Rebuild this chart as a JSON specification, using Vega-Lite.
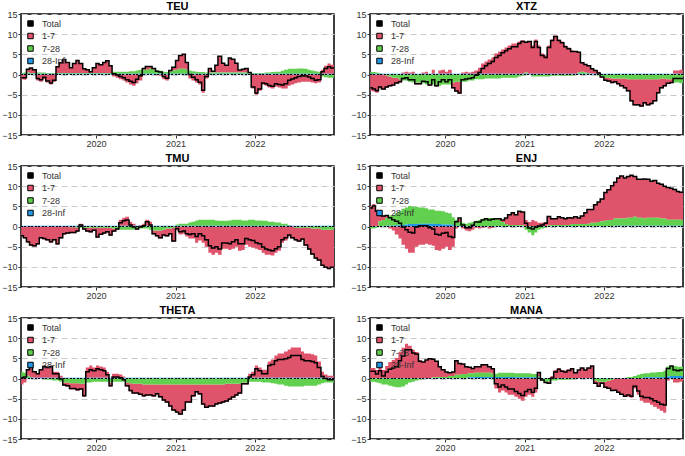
{
"$schema": "https://vega.github.io/schema/vega-lite/v6.json",
"background": "white",
"padding": {"left": 0, "top": 0, "right": 0, "bottom": 0},
"columns": 2,
"spacing": {"row": 3, "column": 13},
"resolve": {"legend": {"color": "independent"}},
"data": {"values": [
{"p":"TEU","d":"2019-01-22","a":-1.2,"b":0.2,"c":0.2,"t":-0.8},
{"p":"TEU","d":"2019-02-01","a":-1.3,"b":0.3,"c":0.2,"t":-0.8},
{"p":"TEU","d":"2019-02-15","a":0.8,"b":0.3,"c":0.2,"t":1.3},
{"p":"TEU","d":"2019-03-01","a":1.2,"b":0.2,"c":0.2,"t":1.6},
{"p":"TEU","d":"2019-03-15","a":0.8,"b":0.2,"c":0.2,"t":1.2},
{"p":"TEU","d":"2019-04-01","a":-1.5,"b":0.3,"c":0.2,"t":-1.0},
{"p":"TEU","d":"2019-04-15","a":-1.8,"b":0.3,"c":0.2,"t":-1.3},
{"p":"TEU","d":"2019-05-01","a":-1.2,"b":0.3,"c":0.2,"t":-0.7},
{"p":"TEU","d":"2019-05-15","a":-2.0,"b":0.2,"c":0.2,"t":-1.6},
{"p":"TEU","d":"2019-06-01","a":-2.5,"b":0.2,"c":0.2,"t":-2.1},
{"p":"TEU","d":"2019-06-15","a":-1.8,"b":0.2,"c":0.2,"t":-1.4},
{"p":"TEU","d":"2019-07-01","a":1.5,"b":0.2,"c":0.2,"t":1.9},
{"p":"TEU","d":"2019-07-15","a":2.5,"b":0.2,"c":0.2,"t":2.9},
{"p":"TEU","d":"2019-08-01","a":3.3,"b":0.2,"c":0.2,"t":3.7},
{"p":"TEU","d":"2019-08-15","a":2.6,"b":0.2,"c":0.2,"t":3.0},
{"p":"TEU","d":"2019-09-01","a":1.3,"b":0.2,"c":0.2,"t":1.7},
{"p":"TEU","d":"2019-09-15","a":2.3,"b":0.2,"c":0.2,"t":2.7},
{"p":"TEU","d":"2019-10-01","a":3.1,"b":0.2,"c":0.2,"t":3.5},
{"p":"TEU","d":"2019-10-15","a":2.3,"b":0.2,"c":0.2,"t":2.7},
{"p":"TEU","d":"2019-11-01","a":1.0,"b":0.2,"c":0.2,"t":1.4},
{"p":"TEU","d":"2019-11-15","a":0.8,"b":0.2,"c":0.2,"t":1.2},
{"p":"TEU","d":"2019-12-01","a":0.3,"b":0.2,"c":0.2,"t":0.7},
{"p":"TEU","d":"2019-12-15","a":1.3,"b":0.2,"c":0.2,"t":1.7},
{"p":"TEU","d":"2020-01-01","a":2.3,"b":0.2,"c":0.2,"t":2.7},
{"p":"TEU","d":"2020-01-15","a":2.0,"b":0.2,"c":0.2,"t":2.4},
{"p":"TEU","d":"2020-02-01","a":2.6,"b":0.2,"c":0.2,"t":3.0},
{"p":"TEU","d":"2020-02-15","a":3.0,"b":0.2,"c":0.2,"t":3.4},
{"p":"TEU","d":"2020-03-01","a":1.8,"b":0.2,"c":0.2,"t":2.2},
{"p":"TEU","d":"2020-03-15","a":-0.5,"b":0.5,"c":0.2,"t":0.2},
{"p":"TEU","d":"2020-04-01","a":-0.8,"b":0.5,"c":0.2,"t":-0.1},
{"p":"TEU","d":"2020-04-15","a":-1.2,"b":0.5,"c":0.2,"t":-0.5},
{"p":"TEU","d":"2020-05-01","a":-1.5,"b":0.5,"c":0.2,"t":-0.8},
{"p":"TEU","d":"2020-05-15","a":-2.0,"b":0.5,"c":0.2,"t":-1.3},
{"p":"TEU","d":"2020-06-01","a":-2.5,"b":0.6,"c":0.2,"t":-1.7},
{"p":"TEU","d":"2020-06-15","a":-2.8,"b":0.6,"c":0.2,"t":-2.0},
{"p":"TEU","d":"2020-07-01","a":-2.2,"b":0.8,"c":0.2,"t":-1.2},
{"p":"TEU","d":"2020-07-15","a":-1.5,"b":1.0,"c":0.2,"t":-0.3},
{"p":"TEU","d":"2020-08-01","a":0.3,"b":1.0,"c":0.2,"t":1.5},
{"p":"TEU","d":"2020-08-15","a":0.8,"b":1.0,"c":0.2,"t":2.0},
{"p":"TEU","d":"2020-09-01","a":0.6,"b":1.2,"c":0.2,"t":2.0},
{"p":"TEU","d":"2020-09-15","a":0.3,"b":1.0,"c":0.2,"t":1.5},
{"p":"TEU","d":"2020-10-01","a":-0.2,"b":0.8,"c":0.2,"t":0.8},
{"p":"TEU","d":"2020-10-15","a":-0.3,"b":0.7,"c":0.2,"t":0.6},
{"p":"TEU","d":"2020-11-01","a":-1.2,"b":0.5,"c":0.2,"t":-0.5},
{"p":"TEU","d":"2020-11-15","a":-1.5,"b":0.4,"c":0.2,"t":-0.9},
{"p":"TEU","d":"2020-12-01","a":0.3,"b":0.5,"c":0.2,"t":1.0},
{"p":"TEU","d":"2020-12-15","a":0.8,"b":0.8,"c":0.2,"t":1.8},
{"p":"TEU","d":"2021-01-01","a":2.3,"b":1.0,"c":0.2,"t":3.5},
{"p":"TEU","d":"2021-01-15","a":3.3,"b":1.2,"c":0.2,"t":4.7},
{"p":"TEU","d":"2021-02-01","a":3.6,"b":1.2,"c":0.2,"t":5.0},
{"p":"TEU","d":"2021-02-15","a":1.8,"b":1.0,"c":0.2,"t":3.0},
{"p":"TEU","d":"2021-03-01","a":-1.0,"b":0.8,"c":0.2,"t":0.0},
{"p":"TEU","d":"2021-03-15","a":-1.5,"b":0.6,"c":0.2,"t":-0.7},
{"p":"TEU","d":"2021-04-01","a":-2.0,"b":0.5,"c":0.2,"t":-1.3},
{"p":"TEU","d":"2021-04-15","a":-2.5,"b":0.4,"c":0.2,"t":-1.9},
{"p":"TEU","d":"2021-05-01","a":-4.5,"b":0.4,"c":0.2,"t":-3.9},
{"p":"TEU","d":"2021-05-15","a":-1.0,"b":0.3,"c":0.2,"t":-0.5},
{"p":"TEU","d":"2021-06-01","a":1.0,"b":0.3,"c":0.2,"t":1.5},
{"p":"TEU","d":"2021-06-15","a":0.3,"b":0.3,"c":0.2,"t":0.8},
{"p":"TEU","d":"2021-07-01","a":1.8,"b":0.3,"c":0.2,"t":2.3},
{"p":"TEU","d":"2021-07-15","a":4.0,"b":0.3,"c":0.2,"t":4.5},
{"p":"TEU","d":"2021-08-01","a":2.3,"b":0.3,"c":0.2,"t":2.8},
{"p":"TEU","d":"2021-08-15","a":1.8,"b":0.3,"c":0.2,"t":2.3},
{"p":"TEU","d":"2021-09-01","a":3.6,"b":0.3,"c":0.2,"t":4.1},
{"p":"TEU","d":"2021-09-15","a":3.3,"b":0.3,"c":0.2,"t":3.8},
{"p":"TEU","d":"2021-10-01","a":2.3,"b":0.3,"c":0.2,"t":2.8},
{"p":"TEU","d":"2021-10-15","a":0.6,"b":0.3,"c":0.2,"t":1.1},
{"p":"TEU","d":"2021-11-01","a":0.8,"b":0.3,"c":0.2,"t":1.3},
{"p":"TEU","d":"2021-11-15","a":1.0,"b":0.3,"c":0.2,"t":1.5},
{"p":"TEU","d":"2021-12-01","a":0.1,"b":0.2,"c":0.2,"t":0.5},
{"p":"TEU","d":"2021-12-15","a":-3.5,"b":0.2,"c":0.2,"t":-3.1},
{"p":"TEU","d":"2022-01-01","a":-5.0,"b":0.2,"c":0.2,"t":-4.6},
{"p":"TEU","d":"2022-01-15","a":-4.0,"b":0.2,"c":0.2,"t":-3.6},
{"p":"TEU","d":"2022-02-01","a":-2.5,"b":0.2,"c":0.2,"t":-2.1},
{"p":"TEU","d":"2022-02-15","a":-2.8,"b":0.3,"c":0.2,"t":-2.3},
{"p":"TEU","d":"2022-03-01","a":-3.2,"b":0.3,"c":0.2,"t":-2.7},
{"p":"TEU","d":"2022-03-15","a":-3.5,"b":0.4,"c":0.2,"t":-2.9},
{"p":"TEU","d":"2022-04-01","a":-3.0,"b":0.5,"c":0.2,"t":-2.3},
{"p":"TEU","d":"2022-04-15","a":-3.2,"b":0.5,"c":0.2,"t":-2.5},
{"p":"TEU","d":"2022-05-01","a":-3.5,"b":0.7,"c":0.2,"t":-2.6},
{"p":"TEU","d":"2022-05-15","a":-3.5,"b":1.0,"c":0.2,"t":-2.3},
{"p":"TEU","d":"2022-06-01","a":-2.8,"b":1.2,"c":0.2,"t":-1.4},
{"p":"TEU","d":"2022-06-15","a":-2.5,"b":1.2,"c":0.2,"t":-1.1},
{"p":"TEU","d":"2022-07-01","a":-2.2,"b":1.2,"c":0.2,"t":-0.8},
{"p":"TEU","d":"2022-07-15","a":-2.0,"b":1.3,"c":0.2,"t":-0.5},
{"p":"TEU","d":"2022-08-01","a":-1.8,"b":1.3,"c":0.2,"t":-0.3},
{"p":"TEU","d":"2022-08-15","a":-1.8,"b":1.2,"c":0.2,"t":-0.4},
{"p":"TEU","d":"2022-09-01","a":-1.8,"b":1.0,"c":0.2,"t":-0.6},
{"p":"TEU","d":"2022-09-15","a":-2.0,"b":0.8,"c":0.2,"t":-1.0},
{"p":"TEU","d":"2022-10-01","a":-2.2,"b":0.6,"c":0.2,"t":-1.4},
{"p":"TEU","d":"2022-10-15","a":-2.0,"b":0.5,"c":0.2,"t":-1.3},
{"p":"TEU","d":"2022-11-01","a":1.0,"b":-0.5,"c":0.2,"t":0.7},
{"p":"TEU","d":"2022-11-15","a":2.0,"b":-0.7,"c":0.2,"t":1.5},
{"p":"TEU","d":"2022-12-01","a":2.5,"b":-0.8,"c":0.2,"t":1.9},
{"p":"TEU","d":"2022-12-15","a":2.2,"b":-0.8,"c":0.2,"t":1.6},
{"p":"TEU","d":"2022-12-31","a":2.2,"b":-0.8,"c":0.2,"t":1.6},

{"p":"XTZ","d":"2019-01-22","a":-4.0,"b":0.5,"c":0.2,"t":-3.3},
{"p":"XTZ","d":"2019-02-01","a":-4.2,"b":0.4,"c":0.2,"t":-3.6},
{"p":"XTZ","d":"2019-02-15","a":-4.5,"b":0.3,"c":0.2,"t":-4.0},
{"p":"XTZ","d":"2019-03-01","a":-3.5,"b":0.2,"c":0.2,"t":-3.1},
{"p":"XTZ","d":"2019-03-15","a":-3.8,"b":0.0,"c":0.2,"t":-3.6},
{"p":"XTZ","d":"2019-04-01","a":-3.0,"b":-0.3,"c":0.2,"t":-3.1},
{"p":"XTZ","d":"2019-04-15","a":-2.5,"b":-0.5,"c":0.2,"t":-2.8},
{"p":"XTZ","d":"2019-05-01","a":-2.0,"b":-0.8,"c":0.2,"t":-2.6},
{"p":"XTZ","d":"2019-05-15","a":-1.5,"b":-0.8,"c":0.2,"t":-2.1},
{"p":"XTZ","d":"2019-06-01","a":-0.8,"b":-1.2,"c":0.2,"t":-1.8},
{"p":"XTZ","d":"2019-06-15","a":0.3,"b":-1.5,"c":0.2,"t":-1.0},
{"p":"XTZ","d":"2019-07-01","a":0.5,"b":-1.5,"c":0.2,"t":-0.8},
{"p":"XTZ","d":"2019-07-15","a":0.3,"b":-1.8,"c":0.2,"t":-1.3},
{"p":"XTZ","d":"2019-08-01","a":0.5,"b":-2.0,"c":0.2,"t":-1.3},
{"p":"XTZ","d":"2019-08-15","a":-0.5,"b":-2.0,"c":0.2,"t":-2.3},
{"p":"XTZ","d":"2019-09-01","a":-0.5,"b":-2.0,"c":0.2,"t":-2.3},
{"p":"XTZ","d":"2019-09-15","a":0.3,"b":-2.2,"c":0.2,"t":-1.7},
{"p":"XTZ","d":"2019-10-01","a":0.5,"b":-2.5,"c":0.2,"t":-1.8},
{"p":"XTZ","d":"2019-10-15","a":-0.5,"b":-2.3,"c":0.2,"t":-2.6},
{"p":"XTZ","d":"2019-11-01","a":1.0,"b":-2.5,"c":0.2,"t":-1.3},
{"p":"XTZ","d":"2019-11-15","a":-0.5,"b":-2.5,"c":0.2,"t":-2.8},
{"p":"XTZ","d":"2019-12-01","a":0.8,"b":-2.8,"c":0.2,"t":-1.8},
{"p":"XTZ","d":"2019-12-15","a":1.0,"b":-2.5,"c":0.2,"t":-1.3},
{"p":"XTZ","d":"2020-01-01","a":0.5,"b":-2.5,"c":0.2,"t":-1.8},
{"p":"XTZ","d":"2020-01-15","a":1.0,"b":-2.5,"c":0.2,"t":-1.3},
{"p":"XTZ","d":"2020-02-01","a":-1.5,"b":-2.0,"c":0.2,"t":-3.3},
{"p":"XTZ","d":"2020-02-15","a":-2.5,"b":-1.8,"c":0.2,"t":-4.1},
{"p":"XTZ","d":"2020-03-01","a":-3.0,"b":-1.8,"c":0.2,"t":-4.6},
{"p":"XTZ","d":"2020-03-15","a":0.3,"b":-1.8,"c":0.2,"t":-1.3},
{"p":"XTZ","d":"2020-04-01","a":0.5,"b":-1.8,"c":0.2,"t":-1.1},
{"p":"XTZ","d":"2020-04-15","a":0.3,"b":-1.5,"c":0.2,"t":-1.0},
{"p":"XTZ","d":"2020-05-01","a":0.5,"b":-1.5,"c":0.2,"t":-0.8},
{"p":"XTZ","d":"2020-05-15","a":0.8,"b":-1.2,"c":0.2,"t":-0.2},
{"p":"XTZ","d":"2020-06-01","a":1.5,"b":-1.2,"c":0.2,"t":0.5},
{"p":"XTZ","d":"2020-06-15","a":2.5,"b":-1.2,"c":0.2,"t":1.5},
{"p":"XTZ","d":"2020-07-01","a":3.0,"b":-1.0,"c":0.2,"t":2.2},
{"p":"XTZ","d":"2020-07-15","a":3.5,"b":-1.0,"c":0.2,"t":2.7},
{"p":"XTZ","d":"2020-08-01","a":4.0,"b":-1.0,"c":0.2,"t":3.2},
{"p":"XTZ","d":"2020-08-15","a":5.0,"b":-1.0,"c":0.2,"t":4.2},
{"p":"XTZ","d":"2020-09-01","a":5.5,"b":-1.0,"c":0.2,"t":4.7},
{"p":"XTZ","d":"2020-09-15","a":6.0,"b":-0.8,"c":0.2,"t":5.4},
{"p":"XTZ","d":"2020-10-01","a":6.5,"b":-0.8,"c":0.2,"t":5.9},
{"p":"XTZ","d":"2020-10-15","a":7.0,"b":-0.8,"c":0.2,"t":6.4},
{"p":"XTZ","d":"2020-11-01","a":7.5,"b":-0.8,"c":0.2,"t":6.9},
{"p":"XTZ","d":"2020-11-15","a":7.5,"b":-0.8,"c":0.2,"t":6.9},
{"p":"XTZ","d":"2020-12-01","a":8.0,"b":-0.5,"c":0.2,"t":7.7},
{"p":"XTZ","d":"2020-12-15","a":8.3,"b":-0.3,"c":0.2,"t":8.2},
{"p":"XTZ","d":"2021-01-01","a":7.5,"b":0.3,"c":0.2,"t":8.0},
{"p":"XTZ","d":"2021-01-15","a":8.0,"b":0.0,"c":0.2,"t":8.2},
{"p":"XTZ","d":"2021-02-01","a":7.0,"b":-0.5,"c":0.2,"t":6.7},
{"p":"XTZ","d":"2021-02-15","a":8.5,"b":-0.5,"c":0.2,"t":8.2},
{"p":"XTZ","d":"2021-03-01","a":7.0,"b":-0.5,"c":0.2,"t":6.7},
{"p":"XTZ","d":"2021-03-15","a":5.0,"b":-0.5,"c":0.2,"t":4.7},
{"p":"XTZ","d":"2021-04-01","a":4.5,"b":-0.5,"c":0.2,"t":4.2},
{"p":"XTZ","d":"2021-04-15","a":7.0,"b":-0.5,"c":0.2,"t":6.7},
{"p":"XTZ","d":"2021-05-01","a":8.5,"b":-0.3,"c":0.2,"t":8.4},
{"p":"XTZ","d":"2021-05-15","a":9.5,"b":-0.3,"c":0.2,"t":9.4},
{"p":"XTZ","d":"2021-06-01","a":8.5,"b":-0.3,"c":0.2,"t":8.4},
{"p":"XTZ","d":"2021-06-15","a":8.0,"b":-0.3,"c":0.2,"t":7.9},
{"p":"XTZ","d":"2021-07-01","a":7.0,"b":-0.3,"c":0.2,"t":6.9},
{"p":"XTZ","d":"2021-07-15","a":6.5,"b":-0.3,"c":0.2,"t":6.4},
{"p":"XTZ","d":"2021-08-01","a":5.8,"b":-0.3,"c":0.2,"t":5.7},
{"p":"XTZ","d":"2021-08-15","a":5.5,"b":0.0,"c":0.2,"t":5.7},
{"p":"XTZ","d":"2021-09-01","a":5.0,"b":0.3,"c":0.2,"t":5.5},
{"p":"XTZ","d":"2021-09-15","a":2.2,"b":0.5,"c":0.2,"t":2.9},
{"p":"XTZ","d":"2021-10-01","a":2.0,"b":0.3,"c":0.2,"t":2.5},
{"p":"XTZ","d":"2021-10-15","a":1.8,"b":0.2,"c":0.2,"t":2.2},
{"p":"XTZ","d":"2021-11-01","a":1.2,"b":0.0,"c":0.2,"t":1.4},
{"p":"XTZ","d":"2021-11-15","a":0.8,"b":0.0,"c":0.2,"t":1.0},
{"p":"XTZ","d":"2021-12-01","a":0.5,"b":-0.3,"c":0.2,"t":0.4},
{"p":"XTZ","d":"2021-12-15","a":-0.3,"b":-0.5,"c":0.2,"t":-0.6},
{"p":"XTZ","d":"2022-01-01","a":-0.8,"b":-0.8,"c":0.2,"t":-1.4},
{"p":"XTZ","d":"2022-01-15","a":-1.0,"b":-0.8,"c":0.2,"t":-1.6},
{"p":"XTZ","d":"2022-02-01","a":-1.2,"b":-1.0,"c":0.2,"t":-2.0},
{"p":"XTZ","d":"2022-02-15","a":-1.0,"b":-1.0,"c":0.2,"t":-1.8},
{"p":"XTZ","d":"2022-03-01","a":-1.5,"b":-1.0,"c":0.2,"t":-2.3},
{"p":"XTZ","d":"2022-03-15","a":-2.0,"b":-1.0,"c":0.2,"t":-2.8},
{"p":"XTZ","d":"2022-04-01","a":-2.5,"b":-1.0,"c":0.2,"t":-3.3},
{"p":"XTZ","d":"2022-04-15","a":-3.0,"b":-1.2,"c":0.2,"t":-4.0},
{"p":"XTZ","d":"2022-05-01","a":-5.5,"b":-1.2,"c":0.2,"t":-6.5},
{"p":"XTZ","d":"2022-05-15","a":-6.5,"b":-1.2,"c":0.2,"t":-7.5},
{"p":"XTZ","d":"2022-06-01","a":-6.5,"b":-1.2,"c":0.2,"t":-7.5},
{"p":"XTZ","d":"2022-06-15","a":-6.8,"b":-1.2,"c":0.2,"t":-7.8},
{"p":"XTZ","d":"2022-07-01","a":-6.0,"b":-1.2,"c":0.2,"t":-7.0},
{"p":"XTZ","d":"2022-07-15","a":-6.5,"b":-1.2,"c":0.2,"t":-7.5},
{"p":"XTZ","d":"2022-08-01","a":-6.2,"b":-1.2,"c":0.2,"t":-7.2},
{"p":"XTZ","d":"2022-08-15","a":-5.5,"b":-1.2,"c":0.2,"t":-6.5},
{"p":"XTZ","d":"2022-09-01","a":-3.5,"b":-1.2,"c":0.2,"t":-4.5},
{"p":"XTZ","d":"2022-09-15","a":-2.5,"b":-1.0,"c":0.2,"t":-3.3},
{"p":"XTZ","d":"2022-10-01","a":-2.0,"b":-1.0,"c":0.2,"t":-2.8},
{"p":"XTZ","d":"2022-10-15","a":-1.2,"b":-1.2,"c":0.2,"t":-2.2},
{"p":"XTZ","d":"2022-11-01","a":-1.0,"b":-1.2,"c":0.2,"t":-2.0},
{"p":"XTZ","d":"2022-11-15","a":0.8,"b":-2.0,"c":0.2,"t":-1.0},
{"p":"XTZ","d":"2022-12-01","a":0.8,"b":-2.0,"c":0.2,"t":-1.0},
{"p":"XTZ","d":"2022-12-15","a":1.0,"b":-2.2,"c":0.2,"t":-1.0},
{"p":"XTZ","d":"2022-12-31","a":1.0,"b":-2.2,"c":0.2,"t":-1.0},

{"p":"TMU","d":"2019-01-22","a":-2.5,"b":0.0,"c":0.2,"t":-2.3},
{"p":"TMU","d":"2019-02-01","a":-3.0,"b":0.0,"c":0.2,"t":-2.8},
{"p":"TMU","d":"2019-02-15","a":-4.0,"b":0.0,"c":0.2,"t":-3.8},
{"p":"TMU","d":"2019-03-01","a":-4.8,"b":0.0,"c":0.2,"t":-4.6},
{"p":"TMU","d":"2019-03-15","a":-5.0,"b":0.0,"c":0.2,"t":-4.8},
{"p":"TMU","d":"2019-04-01","a":-4.5,"b":0.0,"c":0.2,"t":-4.3},
{"p":"TMU","d":"2019-04-15","a":-3.0,"b":0.0,"c":0.2,"t":-2.8},
{"p":"TMU","d":"2019-05-01","a":-3.2,"b":0.0,"c":0.2,"t":-3.0},
{"p":"TMU","d":"2019-05-15","a":-3.5,"b":0.0,"c":0.2,"t":-3.3},
{"p":"TMU","d":"2019-06-01","a":-4.0,"b":0.0,"c":0.2,"t":-3.8},
{"p":"TMU","d":"2019-06-15","a":-3.5,"b":0.0,"c":0.2,"t":-3.3},
{"p":"TMU","d":"2019-07-01","a":-4.5,"b":0.0,"c":0.2,"t":-4.3},
{"p":"TMU","d":"2019-07-15","a":-3.0,"b":0.0,"c":0.2,"t":-2.8},
{"p":"TMU","d":"2019-08-01","a":-2.0,"b":0.0,"c":0.2,"t":-1.8},
{"p":"TMU","d":"2019-08-15","a":-1.8,"b":0.0,"c":0.2,"t":-1.6},
{"p":"TMU","d":"2019-09-01","a":-1.5,"b":-0.2,"c":0.2,"t":-1.5},
{"p":"TMU","d":"2019-09-15","a":-1.5,"b":-0.2,"c":0.2,"t":-1.5},
{"p":"TMU","d":"2019-10-01","a":-1.0,"b":-0.3,"c":0.2,"t":-1.1},
{"p":"TMU","d":"2019-10-15","a":0.5,"b":-0.3,"c":0.2,"t":0.4},
{"p":"TMU","d":"2019-11-01","a":-0.5,"b":-0.3,"c":0.2,"t":-0.6},
{"p":"TMU","d":"2019-11-15","a":-1.0,"b":-0.3,"c":0.2,"t":-1.1},
{"p":"TMU","d":"2019-12-01","a":-1.2,"b":-0.3,"c":0.2,"t":-1.3},
{"p":"TMU","d":"2019-12-15","a":-0.8,"b":-0.3,"c":0.2,"t":-0.9},
{"p":"TMU","d":"2020-01-01","a":-2.5,"b":-0.3,"c":0.2,"t":-2.6},
{"p":"TMU","d":"2020-01-15","a":-1.8,"b":-0.3,"c":0.2,"t":-1.9},
{"p":"TMU","d":"2020-02-01","a":-1.5,"b":-0.3,"c":0.2,"t":-1.6},
{"p":"TMU","d":"2020-02-15","a":-1.2,"b":-0.3,"c":0.2,"t":-1.3},
{"p":"TMU","d":"2020-03-01","a":-2.0,"b":-0.3,"c":0.2,"t":-2.1},
{"p":"TMU","d":"2020-03-15","a":-0.8,"b":-0.5,"c":0.2,"t":-1.1},
{"p":"TMU","d":"2020-04-01","a":-0.3,"b":-0.5,"c":0.2,"t":-0.6},
{"p":"TMU","d":"2020-04-15","a":1.5,"b":-0.8,"c":0.2,"t":0.9},
{"p":"TMU","d":"2020-05-01","a":2.0,"b":-0.8,"c":0.2,"t":1.4},
{"p":"TMU","d":"2020-05-15","a":2.2,"b":-0.8,"c":0.2,"t":1.6},
{"p":"TMU","d":"2020-06-01","a":1.0,"b":-0.8,"c":0.2,"t":0.4},
{"p":"TMU","d":"2020-06-15","a":0.5,"b":-0.8,"c":0.2,"t":-0.1},
{"p":"TMU","d":"2020-07-01","a":-0.3,"b":-0.5,"c":0.2,"t":-0.6},
{"p":"TMU","d":"2020-07-15","a":0.2,"b":-0.5,"c":0.2,"t":-0.1},
{"p":"TMU","d":"2020-08-01","a":0.5,"b":-0.5,"c":0.2,"t":0.2},
{"p":"TMU","d":"2020-08-15","a":1.5,"b":-0.5,"c":0.2,"t":1.2},
{"p":"TMU","d":"2020-09-01","a":1.0,"b":-0.8,"c":0.2,"t":0.4},
{"p":"TMU","d":"2020-09-15","a":-1.0,"b":-1.0,"c":0.2,"t":-1.8},
{"p":"TMU","d":"2020-10-01","a":-1.5,"b":-1.0,"c":0.2,"t":-2.3},
{"p":"TMU","d":"2020-10-15","a":-2.0,"b":-1.0,"c":0.2,"t":-2.8},
{"p":"TMU","d":"2020-11-01","a":-1.5,"b":-0.8,"c":0.2,"t":-2.1},
{"p":"TMU","d":"2020-11-15","a":-2.0,"b":-0.5,"c":0.2,"t":-2.3},
{"p":"TMU","d":"2020-12-01","a":-1.5,"b":-0.5,"c":0.2,"t":-1.8},
{"p":"TMU","d":"2020-12-15","a":-3.5,"b":-0.3,"c":0.2,"t":-3.6},
{"p":"TMU","d":"2021-01-01","a":-1.0,"b":0.3,"c":0.2,"t":-0.5},
{"p":"TMU","d":"2021-01-15","a":-2.0,"b":0.5,"c":0.2,"t":-1.3},
{"p":"TMU","d":"2021-02-01","a":-1.8,"b":0.5,"c":0.2,"t":-1.1},
{"p":"TMU","d":"2021-02-15","a":-2.5,"b":0.5,"c":0.2,"t":-1.8},
{"p":"TMU","d":"2021-03-01","a":-3.0,"b":0.8,"c":0.2,"t":-2.0},
{"p":"TMU","d":"2021-03-15","a":-3.0,"b":1.0,"c":0.2,"t":-1.8},
{"p":"TMU","d":"2021-04-01","a":-4.0,"b":1.3,"c":0.2,"t":-2.5},
{"p":"TMU","d":"2021-04-15","a":-3.5,"b":1.5,"c":0.2,"t":-1.8},
{"p":"TMU","d":"2021-05-01","a":-4.0,"b":1.5,"c":0.2,"t":-2.3},
{"p":"TMU","d":"2021-05-15","a":-5.0,"b":1.5,"c":0.2,"t":-3.3},
{"p":"TMU","d":"2021-06-01","a":-6.5,"b":1.5,"c":0.2,"t":-4.8},
{"p":"TMU","d":"2021-06-15","a":-7.0,"b":1.5,"c":0.2,"t":-5.3},
{"p":"TMU","d":"2021-07-01","a":-6.5,"b":1.3,"c":0.2,"t":-5.0},
{"p":"TMU","d":"2021-07-15","a":-7.0,"b":1.2,"c":0.2,"t":-5.6},
{"p":"TMU","d":"2021-08-01","a":-5.5,"b":1.2,"c":0.2,"t":-4.1},
{"p":"TMU","d":"2021-08-15","a":-5.5,"b":1.2,"c":0.2,"t":-4.1},
{"p":"TMU","d":"2021-09-01","a":-5.8,"b":1.3,"c":0.2,"t":-4.3},
{"p":"TMU","d":"2021-09-15","a":-5.5,"b":1.5,"c":0.2,"t":-3.8},
{"p":"TMU","d":"2021-10-01","a":-5.0,"b":1.5,"c":0.2,"t":-3.3},
{"p":"TMU","d":"2021-10-15","a":-6.0,"b":1.5,"c":0.2,"t":-4.3},
{"p":"TMU","d":"2021-11-01","a":-5.8,"b":1.3,"c":0.2,"t":-4.3},
{"p":"TMU","d":"2021-11-15","a":-4.5,"b":1.3,"c":0.2,"t":-3.0},
{"p":"TMU","d":"2021-12-01","a":-5.0,"b":1.5,"c":0.2,"t":-3.3},
{"p":"TMU","d":"2021-12-15","a":-5.2,"b":1.5,"c":0.2,"t":-3.5},
{"p":"TMU","d":"2022-01-01","a":-5.5,"b":1.3,"c":0.2,"t":-4.0},
{"p":"TMU","d":"2022-01-15","a":-5.8,"b":1.3,"c":0.2,"t":-4.3},
{"p":"TMU","d":"2022-02-01","a":-6.5,"b":1.2,"c":0.2,"t":-5.1},
{"p":"TMU","d":"2022-02-15","a":-7.0,"b":1.2,"c":0.2,"t":-5.6},
{"p":"TMU","d":"2022-03-01","a":-7.0,"b":1.0,"c":0.2,"t":-5.8},
{"p":"TMU","d":"2022-03-15","a":-7.2,"b":1.0,"c":0.2,"t":-6.0},
{"p":"TMU","d":"2022-04-01","a":-6.5,"b":0.8,"c":0.2,"t":-5.5},
{"p":"TMU","d":"2022-04-15","a":-6.0,"b":0.8,"c":0.2,"t":-5.0},
{"p":"TMU","d":"2022-05-01","a":-4.0,"b":0.5,"c":0.2,"t":-3.3},
{"p":"TMU","d":"2022-05-15","a":-3.5,"b":0.5,"c":0.2,"t":-2.8},
{"p":"TMU","d":"2022-06-01","a":-2.5,"b":0.2,"c":0.2,"t":-2.1},
{"p":"TMU","d":"2022-06-15","a":-3.0,"b":0.0,"c":0.2,"t":-2.8},
{"p":"TMU","d":"2022-07-01","a":-3.2,"b":-0.3,"c":0.2,"t":-3.3},
{"p":"TMU","d":"2022-07-15","a":-3.5,"b":-0.3,"c":0.2,"t":-3.6},
{"p":"TMU","d":"2022-08-01","a":-3.0,"b":-0.3,"c":0.2,"t":-3.1},
{"p":"TMU","d":"2022-08-15","a":-4.5,"b":-0.3,"c":0.2,"t":-4.6},
{"p":"TMU","d":"2022-09-01","a":-5.5,"b":-0.3,"c":0.2,"t":-5.6},
{"p":"TMU","d":"2022-09-15","a":-6.5,"b":-0.5,"c":0.2,"t":-6.8},
{"p":"TMU","d":"2022-10-01","a":-7.5,"b":-0.5,"c":0.2,"t":-7.8},
{"p":"TMU","d":"2022-10-15","a":-8.0,"b":-0.5,"c":0.2,"t":-8.3},
{"p":"TMU","d":"2022-11-01","a":-9.0,"b":-0.8,"c":0.2,"t":-9.6},
{"p":"TMU","d":"2022-11-15","a":-9.5,"b":-0.8,"c":0.2,"t":-10.1},
{"p":"TMU","d":"2022-12-01","a":-9.8,"b":-0.8,"c":0.2,"t":-10.4},
{"p":"TMU","d":"2022-12-15","a":-9.5,"b":-0.8,"c":0.2,"t":-10.1},
{"p":"TMU","d":"2022-12-31","a":-9.5,"b":-0.8,"c":0.2,"t":-10.1},

{"p":"ENJ","d":"2019-01-22","a":5.0,"b":-0.5,"c":0.1,"t":4.6},
{"p":"ENJ","d":"2019-02-01","a":5.5,"b":-0.5,"c":0.1,"t":5.1},
{"p":"ENJ","d":"2019-02-15","a":4.0,"b":-0.3,"c":0.1,"t":3.8},
{"p":"ENJ","d":"2019-03-01","a":1.5,"b":1.2,"c":0.1,"t":2.8},
{"p":"ENJ","d":"2019-03-15","a":1.0,"b":1.5,"c":0.1,"t":2.6},
{"p":"ENJ","d":"2019-04-01","a":0.5,"b":2.0,"c":0.2,"t":2.7},
{"p":"ENJ","d":"2019-04-15","a":-0.5,"b":2.5,"c":0.2,"t":2.2},
{"p":"ENJ","d":"2019-05-01","a":-1.0,"b":2.5,"c":0.2,"t":1.7},
{"p":"ENJ","d":"2019-05-15","a":-2.0,"b":3.0,"c":0.3,"t":1.3},
{"p":"ENJ","d":"2019-06-01","a":-3.0,"b":3.5,"c":0.3,"t":0.8},
{"p":"ENJ","d":"2019-06-15","a":-4.5,"b":4.0,"c":0.4,"t":-0.1},
{"p":"ENJ","d":"2019-07-01","a":-5.5,"b":4.2,"c":0.5,"t":-0.8},
{"p":"ENJ","d":"2019-07-15","a":-6.5,"b":4.5,"c":0.6,"t":-1.4},
{"p":"ENJ","d":"2019-08-01","a":-6.5,"b":4.3,"c":0.6,"t":-1.6},
{"p":"ENJ","d":"2019-08-15","a":-5.0,"b":4.3,"c":0.6,"t":-0.1},
{"p":"ENJ","d":"2019-09-01","a":-4.5,"b":4.0,"c":0.7,"t":0.2},
{"p":"ENJ","d":"2019-09-15","a":-4.5,"b":4.0,"c":0.7,"t":0.2},
{"p":"ENJ","d":"2019-10-01","a":-4.3,"b":3.8,"c":0.7,"t":0.2},
{"p":"ENJ","d":"2019-10-15","a":-4.5,"b":3.5,"c":0.7,"t":-0.3},
{"p":"ENJ","d":"2019-11-01","a":-4.8,"b":3.5,"c":0.7,"t":-0.6},
{"p":"ENJ","d":"2019-11-15","a":-5.8,"b":3.3,"c":0.6,"t":-1.9},
{"p":"ENJ","d":"2019-12-01","a":-6.0,"b":3.3,"c":0.6,"t":-2.1},
{"p":"ENJ","d":"2019-12-15","a":-5.5,"b":3.3,"c":0.5,"t":-1.7},
{"p":"ENJ","d":"2020-01-01","a":-5.0,"b":3.0,"c":0.5,"t":-1.5},
{"p":"ENJ","d":"2020-01-15","a":-5.8,"b":2.8,"c":0.5,"t":-2.5},
{"p":"ENJ","d":"2020-02-01","a":-5.0,"b":2.0,"c":0.3,"t":-2.7},
{"p":"ENJ","d":"2020-02-15","a":-0.5,"b":1.5,"c":0.2,"t":1.2},
{"p":"ENJ","d":"2020-03-01","a":1.0,"b":1.0,"c":0.1,"t":2.1},
{"p":"ENJ","d":"2020-03-15","a":-0.5,"b":0.8,"c":0.1,"t":0.4},
{"p":"ENJ","d":"2020-04-01","a":-1.0,"b":0.6,"c":0.1,"t":-0.3},
{"p":"ENJ","d":"2020-04-15","a":-1.2,"b":0.8,"c":0.1,"t":-0.3},
{"p":"ENJ","d":"2020-05-01","a":-0.8,"b":1.0,"c":0.1,"t":0.3},
{"p":"ENJ","d":"2020-05-15","a":-0.3,"b":1.3,"c":0.1,"t":1.1},
{"p":"ENJ","d":"2020-06-01","a":-0.5,"b":1.5,"c":0.1,"t":1.1},
{"p":"ENJ","d":"2020-06-15","a":-0.3,"b":1.8,"c":0.1,"t":1.6},
{"p":"ENJ","d":"2020-07-01","a":0.0,"b":1.8,"c":0.1,"t":1.9},
{"p":"ENJ","d":"2020-07-15","a":-0.5,"b":2.0,"c":0.1,"t":1.6},
{"p":"ENJ","d":"2020-08-01","a":-0.3,"b":2.0,"c":0.1,"t":1.8},
{"p":"ENJ","d":"2020-08-15","a":0.0,"b":1.8,"c":0.1,"t":1.9},
{"p":"ENJ","d":"2020-09-01","a":0.3,"b":1.5,"c":0.1,"t":1.9},
{"p":"ENJ","d":"2020-09-15","a":0.5,"b":1.0,"c":0.1,"t":1.6},
{"p":"ENJ","d":"2020-10-01","a":1.5,"b":0.5,"c":0.1,"t":2.1},
{"p":"ENJ","d":"2020-10-15","a":2.5,"b":0.3,"c":0.1,"t":2.9},
{"p":"ENJ","d":"2020-11-01","a":3.0,"b":0.3,"c":0.1,"t":3.4},
{"p":"ENJ","d":"2020-11-15","a":2.5,"b":0.3,"c":0.1,"t":2.9},
{"p":"ENJ","d":"2020-12-01","a":3.5,"b":0.2,"c":0.1,"t":3.8},
{"p":"ENJ","d":"2020-12-15","a":3.3,"b":0.2,"c":0.1,"t":3.6},
{"p":"ENJ","d":"2021-01-01","a":1.5,"b":-0.8,"c":0.1,"t":0.8},
{"p":"ENJ","d":"2021-01-15","a":1.0,"b":-1.5,"c":0.1,"t":-0.4},
{"p":"ENJ","d":"2021-02-01","a":1.5,"b":-2.2,"c":0.1,"t":-0.6},
{"p":"ENJ","d":"2021-02-15","a":1.2,"b":-1.5,"c":0.1,"t":-0.2},
{"p":"ENJ","d":"2021-03-01","a":0.8,"b":-0.8,"c":0.1,"t":0.1},
{"p":"ENJ","d":"2021-03-15","a":0.8,"b":-0.5,"c":0.1,"t":0.4},
{"p":"ENJ","d":"2021-04-01","a":1.0,"b":-0.3,"c":0.1,"t":0.8},
{"p":"ENJ","d":"2021-04-15","a":2.2,"b":0.2,"c":0.1,"t":2.5},
{"p":"ENJ","d":"2021-05-01","a":1.5,"b":0.3,"c":0.1,"t":1.9},
{"p":"ENJ","d":"2021-05-15","a":1.5,"b":0.3,"c":0.1,"t":1.9},
{"p":"ENJ","d":"2021-06-01","a":2.0,"b":0.3,"c":0.1,"t":2.4},
{"p":"ENJ","d":"2021-06-15","a":1.8,"b":0.3,"c":0.1,"t":2.2},
{"p":"ENJ","d":"2021-07-01","a":1.5,"b":0.3,"c":0.1,"t":1.9},
{"p":"ENJ","d":"2021-07-15","a":1.8,"b":0.3,"c":0.1,"t":2.2},
{"p":"ENJ","d":"2021-08-01","a":1.5,"b":0.5,"c":0.1,"t":2.1},
{"p":"ENJ","d":"2021-08-15","a":1.8,"b":0.5,"c":0.1,"t":2.4},
{"p":"ENJ","d":"2021-09-01","a":1.5,"b":0.5,"c":0.1,"t":2.1},
{"p":"ENJ","d":"2021-09-15","a":2.0,"b":0.5,"c":0.1,"t":2.6},
{"p":"ENJ","d":"2021-10-01","a":2.8,"b":0.5,"c":0.1,"t":3.4},
{"p":"ENJ","d":"2021-10-15","a":3.5,"b":0.6,"c":0.1,"t":4.2},
{"p":"ENJ","d":"2021-11-01","a":3.3,"b":0.8,"c":0.1,"t":4.2},
{"p":"ENJ","d":"2021-11-15","a":4.5,"b":0.8,"c":0.1,"t":5.4},
{"p":"ENJ","d":"2021-12-01","a":5.0,"b":1.0,"c":0.1,"t":6.1},
{"p":"ENJ","d":"2021-12-15","a":5.5,"b":1.2,"c":0.1,"t":6.8},
{"p":"ENJ","d":"2022-01-01","a":7.0,"b":1.3,"c":0.1,"t":8.4},
{"p":"ENJ","d":"2022-01-15","a":7.5,"b":1.5,"c":0.1,"t":9.1},
{"p":"ENJ","d":"2022-02-01","a":8.5,"b":1.5,"c":0.1,"t":10.1},
{"p":"ENJ","d":"2022-02-15","a":9.0,"b":1.8,"c":0.2,"t":11.0},
{"p":"ENJ","d":"2022-03-01","a":10.0,"b":1.8,"c":0.2,"t":12.0},
{"p":"ENJ","d":"2022-03-15","a":10.5,"b":1.8,"c":0.2,"t":12.5},
{"p":"ENJ","d":"2022-04-01","a":10.0,"b":1.8,"c":0.2,"t":12.0},
{"p":"ENJ","d":"2022-04-15","a":10.2,"b":2.0,"c":0.2,"t":12.4},
{"p":"ENJ","d":"2022-05-01","a":10.5,"b":2.0,"c":0.2,"t":12.7},
{"p":"ENJ","d":"2022-05-15","a":10.0,"b":2.2,"c":0.2,"t":12.4},
{"p":"ENJ","d":"2022-06-01","a":9.5,"b":2.0,"c":0.2,"t":11.7},
{"p":"ENJ","d":"2022-06-15","a":9.5,"b":2.0,"c":0.2,"t":11.7},
{"p":"ENJ","d":"2022-07-01","a":9.8,"b":1.8,"c":0.2,"t":11.8},
{"p":"ENJ","d":"2022-07-15","a":9.5,"b":2.0,"c":0.2,"t":11.7},
{"p":"ENJ","d":"2022-08-01","a":9.0,"b":2.0,"c":0.2,"t":11.2},
{"p":"ENJ","d":"2022-08-15","a":9.2,"b":2.0,"c":0.2,"t":11.4},
{"p":"ENJ","d":"2022-09-01","a":8.5,"b":2.0,"c":0.2,"t":10.7},
{"p":"ENJ","d":"2022-09-15","a":8.5,"b":1.8,"c":0.2,"t":10.5},
{"p":"ENJ","d":"2022-10-01","a":8.0,"b":1.8,"c":0.2,"t":10.0},
{"p":"ENJ","d":"2022-10-15","a":8.0,"b":1.5,"c":0.2,"t":9.7},
{"p":"ENJ","d":"2022-11-01","a":7.8,"b":1.5,"c":0.2,"t":9.5},
{"p":"ENJ","d":"2022-11-15","a":7.5,"b":1.5,"c":0.2,"t":9.2},
{"p":"ENJ","d":"2022-12-01","a":7.0,"b":1.5,"c":0.2,"t":8.7},
{"p":"ENJ","d":"2022-12-15","a":6.8,"b":1.5,"c":0.2,"t":8.5},
{"p":"ENJ","d":"2022-12-31","a":6.8,"b":1.5,"c":0.2,"t":8.5},

{"p":"THETA","d":"2019-01-22","a":-1.5,"b":1.5,"c":0.2,"t":0.2},
{"p":"THETA","d":"2019-02-01","a":-1.0,"b":1.2,"c":0.2,"t":0.4},
{"p":"THETA","d":"2019-02-15","a":1.5,"b":0.5,"c":0.2,"t":2.2},
{"p":"THETA","d":"2019-03-01","a":2.5,"b":0.2,"c":0.2,"t":2.9},
{"p":"THETA","d":"2019-03-15","a":1.5,"b":0.0,"c":0.2,"t":1.7},
{"p":"THETA","d":"2019-04-01","a":1.0,"b":0.0,"c":0.2,"t":1.2},
{"p":"THETA","d":"2019-04-15","a":2.0,"b":0.0,"c":0.2,"t":2.2},
{"p":"THETA","d":"2019-05-01","a":3.0,"b":-0.2,"c":0.2,"t":3.0},
{"p":"THETA","d":"2019-05-15","a":2.8,"b":-0.3,"c":0.2,"t":2.7},
{"p":"THETA","d":"2019-06-01","a":3.0,"b":-0.3,"c":0.2,"t":2.9},
{"p":"THETA","d":"2019-06-15","a":1.5,"b":-0.5,"c":0.2,"t":1.2},
{"p":"THETA","d":"2019-07-01","a":1.5,"b":-0.5,"c":0.2,"t":1.2},
{"p":"THETA","d":"2019-07-15","a":0.5,"b":-0.8,"c":0.2,"t":-0.1},
{"p":"THETA","d":"2019-08-01","a":-0.8,"b":-1.0,"c":0.2,"t":-1.6},
{"p":"THETA","d":"2019-08-15","a":-1.0,"b":-1.0,"c":0.2,"t":-1.8},
{"p":"THETA","d":"2019-09-01","a":-1.5,"b":-1.2,"c":0.2,"t":-2.5},
{"p":"THETA","d":"2019-09-15","a":-1.5,"b":-1.2,"c":0.2,"t":-2.5},
{"p":"THETA","d":"2019-10-01","a":-1.8,"b":-1.2,"c":0.2,"t":-2.8},
{"p":"THETA","d":"2019-10-15","a":-1.5,"b":-1.3,"c":0.2,"t":-2.6},
{"p":"THETA","d":"2019-11-01","a":-3.2,"b":-1.3,"c":0.2,"t":-4.3},
{"p":"THETA","d":"2019-11-15","a":2.5,"b":-1.0,"c":0.2,"t":1.7},
{"p":"THETA","d":"2019-12-01","a":3.0,"b":-1.0,"c":0.2,"t":2.2},
{"p":"THETA","d":"2019-12-15","a":2.5,"b":-0.8,"c":0.2,"t":1.9},
{"p":"THETA","d":"2020-01-01","a":3.0,"b":-0.8,"c":0.2,"t":2.4},
{"p":"THETA","d":"2020-01-15","a":2.8,"b":-0.8,"c":0.2,"t":2.2},
{"p":"THETA","d":"2020-02-01","a":2.5,"b":-0.8,"c":0.2,"t":1.9},
{"p":"THETA","d":"2020-02-15","a":1.5,"b":-0.8,"c":0.2,"t":0.9},
{"p":"THETA","d":"2020-03-01","a":-1.0,"b":-1.0,"c":0.2,"t":-1.8},
{"p":"THETA","d":"2020-03-15","a":1.0,"b":-0.8,"c":0.2,"t":0.4},
{"p":"THETA","d":"2020-04-01","a":1.0,"b":-0.8,"c":0.2,"t":0.4},
{"p":"THETA","d":"2020-04-15","a":0.8,"b":-0.8,"c":0.2,"t":0.2},
{"p":"THETA","d":"2020-05-01","a":0.3,"b":-0.8,"c":0.2,"t":-0.3},
{"p":"THETA","d":"2020-05-15","a":-1.0,"b":-1.0,"c":0.2,"t":-1.8},
{"p":"THETA","d":"2020-06-01","a":-2.0,"b":-1.2,"c":0.2,"t":-3.0},
{"p":"THETA","d":"2020-06-15","a":-2.5,"b":-1.3,"c":0.2,"t":-3.6},
{"p":"THETA","d":"2020-07-01","a":-2.5,"b":-1.3,"c":0.2,"t":-3.6},
{"p":"THETA","d":"2020-07-15","a":-2.8,"b":-1.3,"c":0.2,"t":-3.9},
{"p":"THETA","d":"2020-08-01","a":-3.0,"b":-1.5,"c":0.2,"t":-4.3},
{"p":"THETA","d":"2020-08-15","a":-2.8,"b":-1.5,"c":0.2,"t":-4.1},
{"p":"THETA","d":"2020-09-01","a":-2.8,"b":-1.5,"c":0.2,"t":-4.1},
{"p":"THETA","d":"2020-09-15","a":-3.0,"b":-1.5,"c":0.2,"t":-4.3},
{"p":"THETA","d":"2020-10-01","a":-2.5,"b":-1.5,"c":0.2,"t":-3.8},
{"p":"THETA","d":"2020-10-15","a":-3.2,"b":-1.5,"c":0.2,"t":-4.5},
{"p":"THETA","d":"2020-11-01","a":-4.0,"b":-1.5,"c":0.2,"t":-5.3},
{"p":"THETA","d":"2020-11-15","a":-4.5,"b":-1.5,"c":0.2,"t":-5.8},
{"p":"THETA","d":"2020-12-01","a":-5.5,"b":-1.5,"c":0.2,"t":-6.8},
{"p":"THETA","d":"2020-12-15","a":-6.5,"b":-1.5,"c":0.2,"t":-7.8},
{"p":"THETA","d":"2021-01-01","a":-7.0,"b":-1.5,"c":0.2,"t":-8.3},
{"p":"THETA","d":"2021-01-15","a":-7.5,"b":-1.5,"c":0.2,"t":-8.8},
{"p":"THETA","d":"2021-02-01","a":-6.5,"b":-1.5,"c":0.2,"t":-7.8},
{"p":"THETA","d":"2021-02-15","a":-4.5,"b":-1.5,"c":0.2,"t":-5.8},
{"p":"THETA","d":"2021-03-01","a":-4.5,"b":-1.5,"c":0.2,"t":-5.8},
{"p":"THETA","d":"2021-03-15","a":-3.0,"b":-1.5,"c":0.2,"t":-4.3},
{"p":"THETA","d":"2021-04-01","a":-2.0,"b":-1.5,"c":0.2,"t":-3.3},
{"p":"THETA","d":"2021-04-15","a":-2.5,"b":-1.5,"c":0.2,"t":-3.8},
{"p":"THETA","d":"2021-05-01","a":-5.0,"b":-1.5,"c":0.2,"t":-6.3},
{"p":"THETA","d":"2021-05-15","a":-5.8,"b":-1.5,"c":0.2,"t":-7.1},
{"p":"THETA","d":"2021-06-01","a":-5.5,"b":-1.5,"c":0.2,"t":-6.8},
{"p":"THETA","d":"2021-06-15","a":-5.5,"b":-1.5,"c":0.2,"t":-6.8},
{"p":"THETA","d":"2021-07-01","a":-5.0,"b":-1.5,"c":0.2,"t":-6.3},
{"p":"THETA","d":"2021-07-15","a":-4.8,"b":-1.5,"c":0.2,"t":-6.1},
{"p":"THETA","d":"2021-08-01","a":-4.5,"b":-1.5,"c":0.2,"t":-5.8},
{"p":"THETA","d":"2021-08-15","a":-4.5,"b":-1.3,"c":0.2,"t":-5.6},
{"p":"THETA","d":"2021-09-01","a":-4.0,"b":-1.3,"c":0.2,"t":-5.1},
{"p":"THETA","d":"2021-09-15","a":-3.5,"b":-1.3,"c":0.2,"t":-4.6},
{"p":"THETA","d":"2021-10-01","a":-3.0,"b":-1.3,"c":0.2,"t":-4.1},
{"p":"THETA","d":"2021-10-15","a":-2.5,"b":-1.3,"c":0.2,"t":-3.6},
{"p":"THETA","d":"2021-11-01","a":-0.5,"b":-1.0,"c":0.2,"t":-1.3},
{"p":"THETA","d":"2021-11-15","a":-0.5,"b":-1.0,"c":0.2,"t":-1.3},
{"p":"THETA","d":"2021-12-01","a":1.0,"b":-0.8,"c":0.2,"t":0.4},
{"p":"THETA","d":"2021-12-15","a":1.5,"b":-0.8,"c":0.2,"t":0.9},
{"p":"THETA","d":"2022-01-01","a":3.0,"b":-0.8,"c":0.2,"t":2.4},
{"p":"THETA","d":"2022-01-15","a":2.5,"b":-0.8,"c":0.2,"t":1.9},
{"p":"THETA","d":"2022-02-01","a":2.0,"b":-1.0,"c":0.2,"t":1.2},
{"p":"THETA","d":"2022-02-15","a":2.0,"b":-1.0,"c":0.2,"t":1.2},
{"p":"THETA","d":"2022-03-01","a":4.0,"b":-1.0,"c":0.2,"t":3.2},
{"p":"THETA","d":"2022-03-15","a":4.5,"b":-1.2,"c":0.2,"t":3.5},
{"p":"THETA","d":"2022-04-01","a":5.5,"b":-1.3,"c":0.2,"t":4.4},
{"p":"THETA","d":"2022-04-15","a":6.0,"b":-1.5,"c":0.2,"t":4.7},
{"p":"THETA","d":"2022-05-01","a":6.0,"b":-1.5,"c":0.2,"t":4.7},
{"p":"THETA","d":"2022-05-15","a":6.5,"b":-1.8,"c":0.2,"t":4.9},
{"p":"THETA","d":"2022-06-01","a":7.0,"b":-2.0,"c":0.2,"t":5.2},
{"p":"THETA","d":"2022-06-15","a":7.5,"b":-2.0,"c":0.2,"t":5.7},
{"p":"THETA","d":"2022-07-01","a":7.5,"b":-2.0,"c":0.2,"t":5.7},
{"p":"THETA","d":"2022-07-15","a":7.5,"b":-2.0,"c":0.2,"t":5.7},
{"p":"THETA","d":"2022-08-01","a":6.5,"b":-2.0,"c":0.2,"t":4.7},
{"p":"THETA","d":"2022-08-15","a":6.0,"b":-1.8,"c":0.2,"t":4.4},
{"p":"THETA","d":"2022-09-01","a":6.0,"b":-1.8,"c":0.2,"t":4.4},
{"p":"THETA","d":"2022-09-15","a":5.8,"b":-1.8,"c":0.2,"t":4.2},
{"p":"THETA","d":"2022-10-01","a":5.5,"b":-1.8,"c":0.2,"t":3.9},
{"p":"THETA","d":"2022-10-15","a":4.0,"b":-1.5,"c":0.2,"t":2.7},
{"p":"THETA","d":"2022-11-01","a":1.5,"b":-1.2,"c":0.2,"t":0.5},
{"p":"THETA","d":"2022-11-15","a":0.8,"b":-1.0,"c":0.2,"t":0.0},
{"p":"THETA","d":"2022-12-01","a":0.5,"b":-1.0,"c":0.2,"t":-0.3},
{"p":"THETA","d":"2022-12-15","a":0.5,"b":-1.0,"c":0.2,"t":-0.3},
{"p":"THETA","d":"2022-12-31","a":0.5,"b":-1.0,"c":0.2,"t":-0.3},

{"p":"MANA","d":"2019-01-22","a":2.5,"b":-0.8,"c":0.1,"t":1.8},
{"p":"MANA","d":"2019-02-01","a":2.5,"b":-0.8,"c":0.1,"t":1.8},
{"p":"MANA","d":"2019-02-15","a":2.0,"b":-1.0,"c":0.1,"t":1.1},
{"p":"MANA","d":"2019-03-01","a":3.0,"b":-1.2,"c":0.1,"t":1.9},
{"p":"MANA","d":"2019-03-15","a":2.0,"b":-1.5,"c":0.1,"t":0.6},
{"p":"MANA","d":"2019-04-01","a":3.0,"b":-1.5,"c":0.1,"t":1.6},
{"p":"MANA","d":"2019-04-15","a":4.0,"b":-1.8,"c":0.1,"t":2.3},
{"p":"MANA","d":"2019-05-01","a":4.5,"b":-2.0,"c":0.1,"t":2.6},
{"p":"MANA","d":"2019-05-15","a":5.0,"b":-2.2,"c":0.1,"t":2.9},
{"p":"MANA","d":"2019-06-01","a":6.5,"b":-2.2,"c":0.1,"t":4.4},
{"p":"MANA","d":"2019-06-15","a":7.5,"b":-2.0,"c":0.1,"t":5.6},
{"p":"MANA","d":"2019-07-01","a":8.5,"b":-1.5,"c":0.1,"t":7.1},
{"p":"MANA","d":"2019-07-15","a":8.0,"b":-1.0,"c":0.1,"t":7.1},
{"p":"MANA","d":"2019-08-01","a":7.0,"b":-0.8,"c":0.1,"t":6.3},
{"p":"MANA","d":"2019-08-15","a":6.5,"b":-0.5,"c":0.1,"t":6.1},
{"p":"MANA","d":"2019-09-01","a":4.5,"b":-0.3,"c":0.1,"t":4.3},
{"p":"MANA","d":"2019-09-15","a":4.0,"b":0.0,"c":0.1,"t":4.1},
{"p":"MANA","d":"2019-10-01","a":4.5,"b":0.0,"c":0.1,"t":4.6},
{"p":"MANA","d":"2019-10-15","a":4.8,"b":0.0,"c":0.1,"t":4.9},
{"p":"MANA","d":"2019-11-01","a":4.5,"b":0.2,"c":0.1,"t":4.8},
{"p":"MANA","d":"2019-11-15","a":4.0,"b":0.2,"c":0.1,"t":4.3},
{"p":"MANA","d":"2019-12-01","a":2.5,"b":0.3,"c":0.1,"t":2.9},
{"p":"MANA","d":"2019-12-15","a":1.8,"b":0.3,"c":0.1,"t":2.2},
{"p":"MANA","d":"2020-01-01","a":1.2,"b":0.3,"c":0.1,"t":1.6},
{"p":"MANA","d":"2020-01-15","a":0.8,"b":0.5,"c":0.1,"t":1.4},
{"p":"MANA","d":"2020-02-01","a":1.0,"b":0.5,"c":0.1,"t":1.6},
{"p":"MANA","d":"2020-02-15","a":3.5,"b":0.8,"c":0.1,"t":4.4},
{"p":"MANA","d":"2020-03-01","a":2.8,"b":0.8,"c":0.1,"t":3.7},
{"p":"MANA","d":"2020-03-15","a":2.5,"b":1.0,"c":0.1,"t":3.6},
{"p":"MANA","d":"2020-04-01","a":1.8,"b":1.0,"c":0.1,"t":2.9},
{"p":"MANA","d":"2020-04-15","a":1.5,"b":1.0,"c":0.3,"t":2.8},
{"p":"MANA","d":"2020-05-01","a":1.2,"b":1.0,"c":0.3,"t":2.5},
{"p":"MANA","d":"2020-05-15","a":1.5,"b":1.0,"c":0.4,"t":2.9},
{"p":"MANA","d":"2020-06-01","a":1.5,"b":1.0,"c":0.4,"t":2.9},
{"p":"MANA","d":"2020-06-15","a":2.0,"b":1.0,"c":0.4,"t":3.4},
{"p":"MANA","d":"2020-07-01","a":2.0,"b":1.0,"c":0.4,"t":3.4},
{"p":"MANA","d":"2020-07-15","a":1.5,"b":1.0,"c":0.4,"t":2.9},
{"p":"MANA","d":"2020-08-01","a":1.2,"b":0.8,"c":0.4,"t":2.4},
{"p":"MANA","d":"2020-08-15","a":-2.5,"b":0.8,"c":0.4,"t":-1.3},
{"p":"MANA","d":"2020-09-01","a":-3.5,"b":1.0,"c":0.4,"t":-2.1},
{"p":"MANA","d":"2020-09-15","a":-3.0,"b":1.0,"c":0.4,"t":-1.6},
{"p":"MANA","d":"2020-10-01","a":-3.5,"b":1.0,"c":0.4,"t":-2.1},
{"p":"MANA","d":"2020-10-15","a":-4.0,"b":1.0,"c":0.4,"t":-2.6},
{"p":"MANA","d":"2020-11-01","a":-4.0,"b":1.0,"c":0.4,"t":-2.6},
{"p":"MANA","d":"2020-11-15","a":-4.5,"b":1.0,"c":0.3,"t":-3.2},
{"p":"MANA","d":"2020-12-01","a":-5.0,"b":1.0,"c":0.3,"t":-3.7},
{"p":"MANA","d":"2020-12-15","a":-5.5,"b":1.0,"c":0.3,"t":-4.2},
{"p":"MANA","d":"2021-01-01","a":-4.5,"b":1.0,"c":0.3,"t":-3.2},
{"p":"MANA","d":"2021-01-15","a":-4.0,"b":1.0,"c":0.3,"t":-2.7},
{"p":"MANA","d":"2021-02-01","a":-4.5,"b":0.8,"c":0.3,"t":-3.4},
{"p":"MANA","d":"2021-02-15","a":-3.5,"b":0.8,"c":0.3,"t":-2.4},
{"p":"MANA","d":"2021-03-01","a":1.0,"b":0.3,"c":0.2,"t":1.5},
{"p":"MANA","d":"2021-03-15","a":0.0,"b":-0.5,"c":0.1,"t":-0.4},
{"p":"MANA","d":"2021-04-01","a":-0.3,"b":-0.8,"c":0.1,"t":-1.0},
{"p":"MANA","d":"2021-04-15","a":-0.5,"b":-0.8,"c":0.1,"t":-1.2},
{"p":"MANA","d":"2021-05-01","a":0.5,"b":-0.5,"c":0.1,"t":0.1},
{"p":"MANA","d":"2021-05-15","a":2.0,"b":-0.5,"c":0.1,"t":1.6},
{"p":"MANA","d":"2021-06-01","a":2.5,"b":-0.3,"c":0.1,"t":2.3},
{"p":"MANA","d":"2021-06-15","a":2.0,"b":-0.3,"c":0.1,"t":1.8},
{"p":"MANA","d":"2021-07-01","a":1.8,"b":-0.3,"c":0.1,"t":1.6},
{"p":"MANA","d":"2021-07-15","a":2.2,"b":-0.3,"c":0.1,"t":2.0},
{"p":"MANA","d":"2021-08-01","a":2.5,"b":-0.2,"c":0.1,"t":2.4},
{"p":"MANA","d":"2021-08-15","a":1.5,"b":-0.2,"c":0.1,"t":1.4},
{"p":"MANA","d":"2021-09-01","a":2.0,"b":0.0,"c":0.1,"t":2.1},
{"p":"MANA","d":"2021-09-15","a":2.5,"b":0.0,"c":0.1,"t":2.6},
{"p":"MANA","d":"2021-10-01","a":2.0,"b":0.0,"c":0.1,"t":2.1},
{"p":"MANA","d":"2021-10-15","a":2.5,"b":0.0,"c":0.1,"t":2.6},
{"p":"MANA","d":"2021-11-01","a":3.0,"b":0.0,"c":0.1,"t":3.1},
{"p":"MANA","d":"2021-11-15","a":-0.8,"b":-0.5,"c":0.1,"t":-1.2},
{"p":"MANA","d":"2021-12-01","a":-1.2,"b":-0.8,"c":0.1,"t":-1.9},
{"p":"MANA","d":"2021-12-15","a":-0.5,"b":-0.8,"c":0.1,"t":-1.2},
{"p":"MANA","d":"2022-01-01","a":-1.5,"b":-0.8,"c":0.1,"t":-2.2},
{"p":"MANA","d":"2022-01-15","a":-2.0,"b":-0.5,"c":0.1,"t":-2.4},
{"p":"MANA","d":"2022-02-01","a":-2.8,"b":-0.3,"c":0.1,"t":-3.0},
{"p":"MANA","d":"2022-02-15","a":-3.0,"b":0.0,"c":0.1,"t":-2.9},
{"p":"MANA","d":"2022-03-01","a":-3.5,"b":0.0,"c":0.1,"t":-3.4},
{"p":"MANA","d":"2022-03-15","a":-4.0,"b":0.0,"c":0.1,"t":-3.9},
{"p":"MANA","d":"2022-04-01","a":-4.5,"b":0.0,"c":0.1,"t":-4.4},
{"p":"MANA","d":"2022-04-15","a":-4.5,"b":0.3,"c":0.1,"t":-4.1},
{"p":"MANA","d":"2022-05-01","a":-4.8,"b":0.3,"c":0.1,"t":-4.4},
{"p":"MANA","d":"2022-05-15","a":-2.5,"b":0.5,"c":0.1,"t":-1.9},
{"p":"MANA","d":"2022-06-01","a":-4.0,"b":0.8,"c":0.1,"t":-3.1},
{"p":"MANA","d":"2022-06-15","a":-5.5,"b":1.0,"c":0.1,"t":-4.4},
{"p":"MANA","d":"2022-07-01","a":-6.0,"b":1.0,"c":0.3,"t":-4.7},
{"p":"MANA","d":"2022-07-15","a":-6.0,"b":1.0,"c":0.3,"t":-4.7},
{"p":"MANA","d":"2022-08-01","a":-6.5,"b":1.2,"c":0.3,"t":-5.0},
{"p":"MANA","d":"2022-08-15","a":-7.0,"b":1.2,"c":0.3,"t":-5.5},
{"p":"MANA","d":"2022-09-01","a":-7.5,"b":1.3,"c":0.3,"t":-5.9},
{"p":"MANA","d":"2022-09-15","a":-8.0,"b":1.3,"c":0.3,"t":-6.4},
{"p":"MANA","d":"2022-10-01","a":-8.5,"b":1.5,"c":0.4,"t":-6.6},
{"p":"MANA","d":"2022-10-15","a":-0.5,"b":2.5,"c":0.5,"t":2.5},
{"p":"MANA","d":"2022-11-01","a":0.0,"b":2.5,"c":0.6,"t":3.1},
{"p":"MANA","d":"2022-11-15","a":-1.0,"b":2.5,"c":0.6,"t":2.1},
{"p":"MANA","d":"2022-12-01","a":-1.0,"b":2.3,"c":0.6,"t":1.9},
{"p":"MANA","d":"2022-12-15","a":-0.8,"b":2.3,"c":0.6,"t":2.1},
{"p":"MANA","d":"2022-12-31","a":-0.8,"b":2.3,"c":0.6,"t":2.1}
]},
"concat": [
{"title":"TEU","width":313,"height":121,"transform":[{"filter":"datum.p=='TEU'"}],"layer":[
 {"transform":[{"fold":["a","b","c"],"as":["k","v"]}],"mark":{"type":"area","interpolate":"step-after","clip":true},
  "encoding":{
   "x":{"field":"d","type":"temporal","scale":{"type":"utc","domain":[{"year":2019,"month":1,"date":21,"utc":true},{"year":2022,"month":12,"date":31,"utc":true}]},"axis":{"values":[{"year":2020,"month":1,"date":1,"utc":true},{"year":2021,"month":1,"date":1,"utc":true},{"year":2022,"month":1,"date":1,"utc":true}],"format":"%Y","title":null}},
   "y":{"field":"v","type":"quantitative","stack":"zero","scale":{"domain":[-15,15],"nice":false},"axis":{"values":[-15,-10,-5,0,5,10,15],"title":null,"labelOverlap":false}},
   "color":{"field":"k","type":"nominal","scale":{"domain":["T","a","b","c"],"range":["#000000","#DF536B","#61D04F","#2297E6"]},"legend":{"title":null,"orient":"top-left","symbolType":"square","symbolSize":30,"labelFontSize":9,"labelColor":"#333333","rowPadding":1.5,"offset":5,"padding":0,"labelOffset":7,"labelExpr":"datum.label=='T'?'Total':datum.label=='a'?'1-7':datum.label=='b'?'7-28':'28-Inf'","encode":{"symbols":{"update":{"stroke":{"value":"#000000"},"strokeWidth":{"value":1}}}}}},
   "order":{"field":"k","sort":"descending"}}},
 {"mark":{"type":"line","interpolate":"step-after","color":"black","strokeWidth":1.5,"clip":true},"encoding":{"x":{"field":"d","type":"temporal"},"y":{"field":"t","type":"quantitative","axis":{"values":[-15,-10,-5,0,5,10,15],"title":null,"labelOverlap":false}}}},
 {"mark":{"type":"rule","color":"black","strokeDash":[1.5,2],"strokeWidth":1.2},"encoding":{"y":{"datum":0,"type":"quantitative","axis":{"values":[-15,-10,-5,0,5,10,15],"title":null,"labelOverlap":false}}}}
]},
{"title":"XTZ","width":313,"height":121,"transform":[{"filter":"datum.p=='XTZ'"}],"layer":[
 {"transform":[{"fold":["a","b","c"],"as":["k","v"]}],"mark":{"type":"area","interpolate":"step-after","clip":true},
  "encoding":{
   "x":{"field":"d","type":"temporal","scale":{"type":"utc","domain":[{"year":2019,"month":1,"date":21,"utc":true},{"year":2022,"month":12,"date":31,"utc":true}]},"axis":{"values":[{"year":2020,"month":1,"date":1,"utc":true},{"year":2021,"month":1,"date":1,"utc":true},{"year":2022,"month":1,"date":1,"utc":true}],"format":"%Y","title":null}},
   "y":{"field":"v","type":"quantitative","stack":"zero","scale":{"domain":[-15,15],"nice":false},"axis":{"values":[-15,-10,-5,0,5,10,15],"title":null,"labelOverlap":false}},
   "color":{"field":"k","type":"nominal","scale":{"domain":["T","a","b","c"],"range":["#000000","#DF536B","#61D04F","#2297E6"]},"legend":{"title":null,"orient":"top-left","symbolType":"square","symbolSize":30,"labelFontSize":9,"labelColor":"#333333","rowPadding":1.5,"offset":5,"padding":0,"labelOffset":7,"labelExpr":"datum.label=='T'?'Total':datum.label=='a'?'1-7':datum.label=='b'?'7-28':'28-Inf'","encode":{"symbols":{"update":{"stroke":{"value":"#000000"},"strokeWidth":{"value":1}}}}}},
   "order":{"field":"k","sort":"descending"}}},
 {"mark":{"type":"line","interpolate":"step-after","color":"black","strokeWidth":1.5,"clip":true},"encoding":{"x":{"field":"d","type":"temporal"},"y":{"field":"t","type":"quantitative","axis":{"values":[-15,-10,-5,0,5,10,15],"title":null,"labelOverlap":false}}}},
 {"mark":{"type":"rule","color":"black","strokeDash":[1.5,2],"strokeWidth":1.2},"encoding":{"y":{"datum":0,"type":"quantitative","axis":{"values":[-15,-10,-5,0,5,10,15],"title":null,"labelOverlap":false}}}}
]},
{"title":"TMU","width":313,"height":121,"transform":[{"filter":"datum.p=='TMU'"}],"layer":[
 {"transform":[{"fold":["a","b","c"],"as":["k","v"]}],"mark":{"type":"area","interpolate":"step-after","clip":true},
  "encoding":{
   "x":{"field":"d","type":"temporal","scale":{"type":"utc","domain":[{"year":2019,"month":1,"date":21,"utc":true},{"year":2022,"month":12,"date":31,"utc":true}]},"axis":{"values":[{"year":2020,"month":1,"date":1,"utc":true},{"year":2021,"month":1,"date":1,"utc":true},{"year":2022,"month":1,"date":1,"utc":true}],"format":"%Y","title":null}},
   "y":{"field":"v","type":"quantitative","stack":"zero","scale":{"domain":[-15,15],"nice":false},"axis":{"values":[-15,-10,-5,0,5,10,15],"title":null,"labelOverlap":false}},
   "color":{"field":"k","type":"nominal","scale":{"domain":["T","a","b","c"],"range":["#000000","#DF536B","#61D04F","#2297E6"]},"legend":{"title":null,"orient":"top-left","symbolType":"square","symbolSize":30,"labelFontSize":9,"labelColor":"#333333","rowPadding":1.5,"offset":5,"padding":0,"labelOffset":7,"labelExpr":"datum.label=='T'?'Total':datum.label=='a'?'1-7':datum.label=='b'?'7-28':'28-Inf'","encode":{"symbols":{"update":{"stroke":{"value":"#000000"},"strokeWidth":{"value":1}}}}}},
   "order":{"field":"k","sort":"descending"}}},
 {"mark":{"type":"line","interpolate":"step-after","color":"black","strokeWidth":1.5,"clip":true},"encoding":{"x":{"field":"d","type":"temporal"},"y":{"field":"t","type":"quantitative","axis":{"values":[-15,-10,-5,0,5,10,15],"title":null,"labelOverlap":false}}}},
 {"mark":{"type":"rule","color":"black","strokeDash":[1.5,2],"strokeWidth":1.2},"encoding":{"y":{"datum":0,"type":"quantitative","axis":{"values":[-15,-10,-5,0,5,10,15],"title":null,"labelOverlap":false}}}}
]},
{"title":"ENJ","width":313,"height":121,"transform":[{"filter":"datum.p=='ENJ'"}],"layer":[
 {"transform":[{"fold":["a","b","c"],"as":["k","v"]}],"mark":{"type":"area","interpolate":"step-after","clip":true},
  "encoding":{
   "x":{"field":"d","type":"temporal","scale":{"type":"utc","domain":[{"year":2019,"month":1,"date":21,"utc":true},{"year":2022,"month":12,"date":31,"utc":true}]},"axis":{"values":[{"year":2020,"month":1,"date":1,"utc":true},{"year":2021,"month":1,"date":1,"utc":true},{"year":2022,"month":1,"date":1,"utc":true}],"format":"%Y","title":null}},
   "y":{"field":"v","type":"quantitative","stack":"zero","scale":{"domain":[-15,15],"nice":false},"axis":{"values":[-15,-10,-5,0,5,10,15],"title":null,"labelOverlap":false}},
   "color":{"field":"k","type":"nominal","scale":{"domain":["T","a","b","c"],"range":["#000000","#DF536B","#61D04F","#2297E6"]},"legend":{"title":null,"orient":"top-left","symbolType":"square","symbolSize":30,"labelFontSize":9,"labelColor":"#333333","rowPadding":1.5,"offset":5,"padding":0,"labelOffset":7,"labelExpr":"datum.label=='T'?'Total':datum.label=='a'?'1-7':datum.label=='b'?'7-28':'28-Inf'","encode":{"symbols":{"update":{"stroke":{"value":"#000000"},"strokeWidth":{"value":1}}}}}},
   "order":{"field":"k","sort":"descending"}}},
 {"mark":{"type":"line","interpolate":"step-after","color":"black","strokeWidth":1.5,"clip":true},"encoding":{"x":{"field":"d","type":"temporal"},"y":{"field":"t","type":"quantitative","axis":{"values":[-15,-10,-5,0,5,10,15],"title":null,"labelOverlap":false}}}},
 {"mark":{"type":"rule","color":"black","strokeDash":[1.5,2],"strokeWidth":1.2},"encoding":{"y":{"datum":0,"type":"quantitative","axis":{"values":[-15,-10,-5,0,5,10,15],"title":null,"labelOverlap":false}}}}
]},
{"title":"THETA","width":313,"height":121,"transform":[{"filter":"datum.p=='THETA'"}],"layer":[
 {"transform":[{"fold":["a","b","c"],"as":["k","v"]}],"mark":{"type":"area","interpolate":"step-after","clip":true},
  "encoding":{
   "x":{"field":"d","type":"temporal","scale":{"type":"utc","domain":[{"year":2019,"month":1,"date":21,"utc":true},{"year":2022,"month":12,"date":31,"utc":true}]},"axis":{"values":[{"year":2020,"month":1,"date":1,"utc":true},{"year":2021,"month":1,"date":1,"utc":true},{"year":2022,"month":1,"date":1,"utc":true}],"format":"%Y","title":null}},
   "y":{"field":"v","type":"quantitative","stack":"zero","scale":{"domain":[-15,15],"nice":false},"axis":{"values":[-15,-10,-5,0,5,10,15],"title":null,"labelOverlap":false}},
   "color":{"field":"k","type":"nominal","scale":{"domain":["T","a","b","c"],"range":["#000000","#DF536B","#61D04F","#2297E6"]},"legend":{"title":null,"orient":"top-left","symbolType":"square","symbolSize":30,"labelFontSize":9,"labelColor":"#333333","rowPadding":1.5,"offset":5,"padding":0,"labelOffset":7,"labelExpr":"datum.label=='T'?'Total':datum.label=='a'?'1-7':datum.label=='b'?'7-28':'28-Inf'","encode":{"symbols":{"update":{"stroke":{"value":"#000000"},"strokeWidth":{"value":1}}}}}},
   "order":{"field":"k","sort":"descending"}}},
 {"mark":{"type":"line","interpolate":"step-after","color":"black","strokeWidth":1.5,"clip":true},"encoding":{"x":{"field":"d","type":"temporal"},"y":{"field":"t","type":"quantitative","axis":{"values":[-15,-10,-5,0,5,10,15],"title":null,"labelOverlap":false}}}},
 {"mark":{"type":"rule","color":"black","strokeDash":[1.5,2],"strokeWidth":1.2},"encoding":{"y":{"datum":0,"type":"quantitative","axis":{"values":[-15,-10,-5,0,5,10,15],"title":null,"labelOverlap":false}}}}
]},
{"title":"MANA","width":313,"height":121,"transform":[{"filter":"datum.p=='MANA'"}],"layer":[
 {"transform":[{"fold":["a","b","c"],"as":["k","v"]}],"mark":{"type":"area","interpolate":"step-after","clip":true},
  "encoding":{
   "x":{"field":"d","type":"temporal","scale":{"type":"utc","domain":[{"year":2019,"month":1,"date":21,"utc":true},{"year":2022,"month":12,"date":31,"utc":true}]},"axis":{"values":[{"year":2020,"month":1,"date":1,"utc":true},{"year":2021,"month":1,"date":1,"utc":true},{"year":2022,"month":1,"date":1,"utc":true}],"format":"%Y","title":null}},
   "y":{"field":"v","type":"quantitative","stack":"zero","scale":{"domain":[-15,15],"nice":false},"axis":{"values":[-15,-10,-5,0,5,10,15],"title":null,"labelOverlap":false}},
   "color":{"field":"k","type":"nominal","scale":{"domain":["T","a","b","c"],"range":["#000000","#DF536B","#61D04F","#2297E6"]},"legend":{"title":null,"orient":"top-left","symbolType":"square","symbolSize":30,"labelFontSize":9,"labelColor":"#333333","rowPadding":1.5,"offset":5,"padding":0,"labelOffset":7,"labelExpr":"datum.label=='T'?'Total':datum.label=='a'?'1-7':datum.label=='b'?'7-28':'28-Inf'","encode":{"symbols":{"update":{"stroke":{"value":"#000000"},"strokeWidth":{"value":1}}}}}},
   "order":{"field":"k","sort":"descending"}}},
 {"mark":{"type":"line","interpolate":"step-after","color":"black","strokeWidth":1.5,"clip":true},"encoding":{"x":{"field":"d","type":"temporal"},"y":{"field":"t","type":"quantitative","axis":{"values":[-15,-10,-5,0,5,10,15],"title":null,"labelOverlap":false}}}},
 {"mark":{"type":"rule","color":"black","strokeDash":[1.5,2],"strokeWidth":1.2},"encoding":{"y":{"datum":0,"type":"quantitative","axis":{"values":[-15,-10,-5,0,5,10,15],"title":null,"labelOverlap":false}}}}
]}
],
"config": {
 "font": "Liberation Sans",
 "view": {"stroke": "#000000", "strokeWidth": 1.5},
 "axis": {"domain": false, "labelFontSize": 9, "labelColor": "#333333", "tickColor": "#333333", "tickSize": 3, "labelPadding": 1, "labelFont": "Liberation Sans", "labelOverlap": false},
 "axisY": {"grid": true, "gridDash": [6, 4], "gridColor": "#c8c8c8"},
 "axisX": {"grid": false},
 "title": {"fontSize": 11, "fontWeight": "bold", "offset": -2, "color": "#000000", "font": "Liberation Sans"}
}
}
